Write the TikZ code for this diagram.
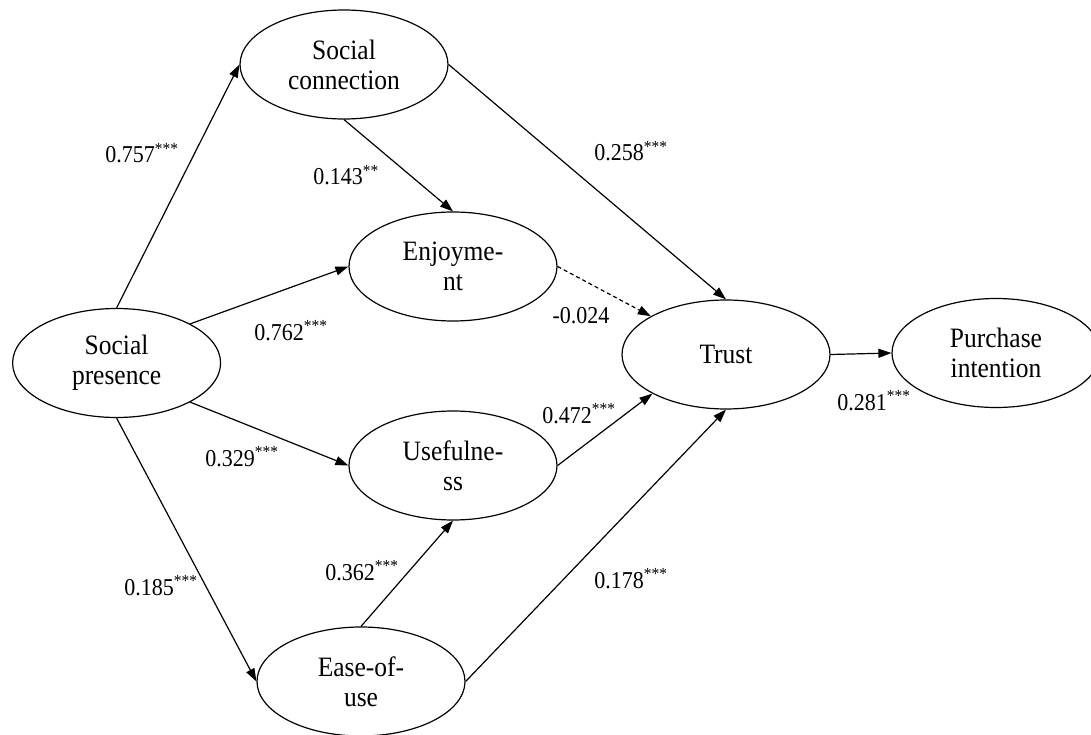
\documentclass[tikz,border=0pt]{standalone}
\usepackage{fontspec}
\usepackage{graphicx}
\setmainfont{Liberation Serif}
\usetikzlibrary{shapes.geometric,arrows.meta}
\newcommand{\vst}[1]{\scalebox{1}[1.1]{#1}}
\begin{document}
\begin{tikzpicture}[x=1pt,y=-1pt,
  latent/.style={ellipse,draw,line width=1.2pt,minimum width=208pt,minimum height=109pt,inner sep=0pt,align=center,font=\fontsize{25.5}{30}\selectfont},
  path/.style={line width=1.2pt,-{Triangle[length=13pt,width=9pt]}},
  dpath/.style={path,dash pattern=on 4pt off 3pt},
  coef/.style={anchor=base,inner sep=0pt,font=\fontsize{22}{26}\selectfont}]
\useasboundingbox (0,0) rectangle (1091,735);
\node[latent] (sc) at (344,64.5) {\vst{Social}\\\vst{connection}};
\node[latent] (enj) at (453,266.5) {\vst{Enjoyme-}\\\vst{nt}};
\node[latent] (sp) at (116.6,363) {\vst{Social}\\\vst{presence}};
\node[latent] (trust) at (726,354.5) {\vst{Trust}};
\node[latent] (pi) at (996,353) {\vst{Purchase}\\\vst{intention}};
\node[latent] (use) at (453,465.5) {\vst{Usefulne-}\\\vst{ss}};
\node[latent] (ease) at (361,681.5) {\vst{Ease-of-}\\\vst{use}};

\draw[path] (sp.north) -- (sc.west);
\draw[path] (sc.south) -- (enj.north);
\draw[path] (sp.28) -- (enj.west);
\draw[path] (sc.east) -- (trust.north);
\draw[dpath] (enj.east) -- (trust.153);
\draw[path] (trust.east) -- (pi.west);
\draw[path] (sp.-28) -- (use.west);
\draw[path] (sp.south) -- (ease.west);
\draw[path] (ease.north) -- (use.south);
\draw[path] (use.east) -- (trust.208);
\draw[path] (ease.east) -- (trust.south);

\node[coef] (l1) at (142,163) {\vst{0.757\textsuperscript{***}}};
\node[coef] (l2) at (346,185) {\vst{0.143\textsuperscript{**}}};
\node[coef] (l3) at (291,340) {\vst{0.762\textsuperscript{***}}};
\node[coef] (l4) at (631,161) {\vst{0.258\textsuperscript{***}}};
\node[coef] (l5) at (581,323) {\vst{-0.024}};
\node[coef] (l6) at (242,466) {\vst{0.329\textsuperscript{***}}};
\node[coef] (l7) at (161,595) {\vst{0.185\textsuperscript{***}}};
\node[coef] (l8) at (362,580) {\vst{0.362\textsuperscript{***}}};
\node[coef] (l9) at (579,423) {\vst{0.472\textsuperscript{***}}};
\node[coef] (l10) at (631,588) {\vst{0.178\textsuperscript{***}}};
\node[coef] (l11) at (874,410) {\vst{0.281\textsuperscript{***}}};
\end{tikzpicture}
\end{document}
